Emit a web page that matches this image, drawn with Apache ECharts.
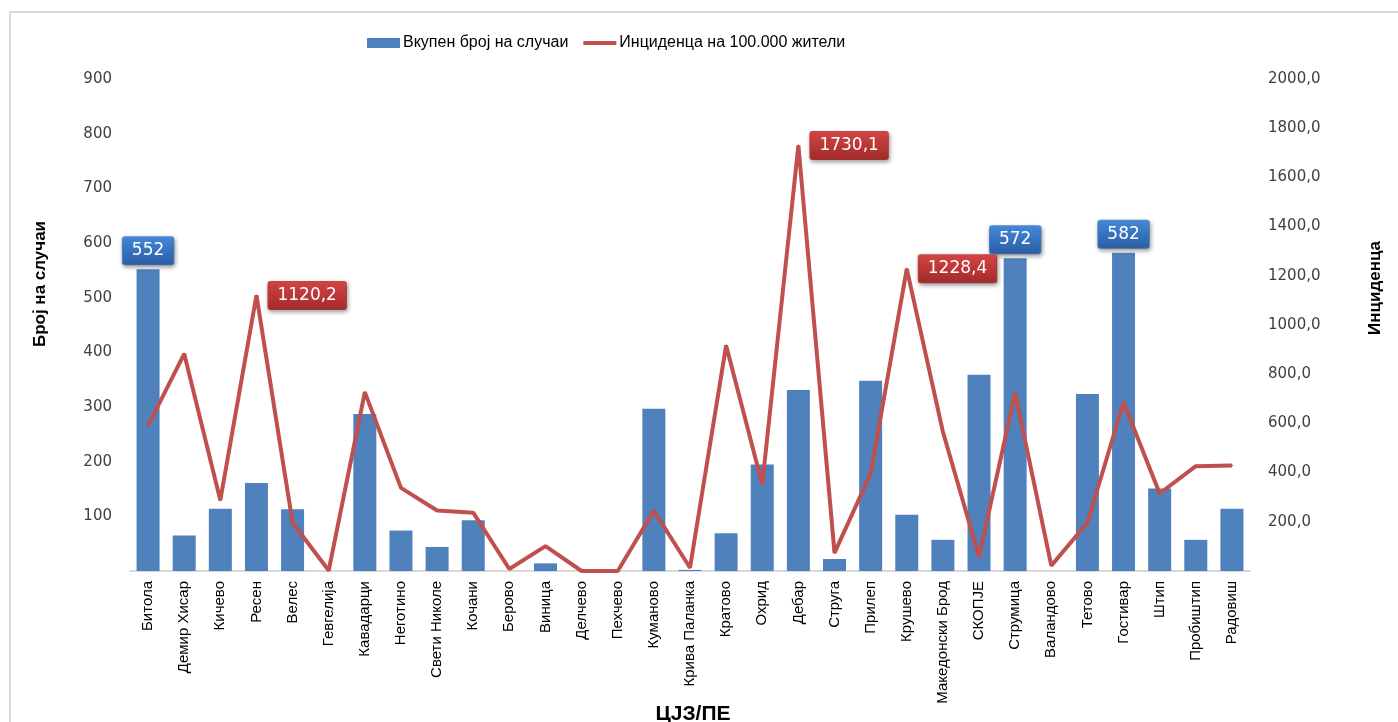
<!DOCTYPE html>
<html>
<head>
<meta charset="utf-8">
<script src="https://cdn.jsdelivr.net/npm/echarts@6/dist/echarts.min.js"></script>
<style>
  html, body { margin: 0; padding: 0; background: #fff; }
  #main { width: 1398px; height: 722px; }
</style>
</head>
<body>
<div id="main"></div>
<script>
// ЦЈЗ/ПЕ
var categories = ['Битола', 'Демир Хисар', 'Кичево', 'Ресен', 'Велес', 'Гевгелија', 'Кавадарци', 'Неготино',
  'Свети Николе', 'Кочани', 'Берово', 'Виница', 'Делчево', 'Пехчево', 'Куманово', 'Крива Паланка',
  'Кратово', 'Охрид', 'Дебар', 'Струга', 'Прилеп', 'Крушево', 'Македонски Брод', 'СКОПЈЕ',
  'Струмица', 'Валандово', 'Тетово', 'Гостивар', 'Штип', 'Пробиштип', 'Радовиш'];

// Вкупен број на случаи
var cases = [552, 65, 114, 161, 113, 0, 287, 74, 44, 93, 0, 14, 0, 0, 297, 2,
  69, 195, 331, 22, 348, 103, 57, 359, 572, 0, 324, 582, 151, 57, 114];

// Инциденца на 100.000 жители
var incidence = [591, 883, 288, 1120.2, 196, 2, 727, 338, 246, 237, 8, 101, 0, 0, 245, 13,
  917, 352, 1730.1, 74, 396, 1228.4, 566, 58, 724, 22, 196, 686, 315, 426, 429];

// which points carry a value box
var labelledCases = [0, 24, 27];
var labelledIncidence = [3, 18, 21];

var leftTicks = [0, 900, 100];
var rightTicks = [0, 2000, 200];

function grad(top, bottom) {
  return new echarts.graphic.LinearGradient(0, 0, 0, 1, [
    {offset: 0, color: top},
    {offset: 1, color: bottom}
  ]);
}

function fmtComma(v) {
  return v.toFixed(1).replace('.', ',');
}

var boxBase = {
  show: true,
  color: '#fff',
  fontFamily: 'DejaVu Sans',
  fontSize: 17,
  padding: [5, 9, 5, 9],
  borderRadius: 2,
  shadowColor: 'rgba(0,0,0,0.35)',
  shadowBlur: 4,
  shadowOffsetX: 1,
  shadowOffsetY: 2
};

var barData = cases.map(function (v, i) {
  if (labelledCases.indexOf(i) < 0) return v;
  return {
    value: v,
    label: Object.assign({}, boxBase, {
      position: 'top',
      distance: 5,
      backgroundColor: grad('#4388da', '#2a5da3'),
      borderColor: '#5b93d6',
      borderWidth: 1
    })
  };
});

var lineData = incidence.map(function (v, i) {
  if (labelledIncidence.indexOf(i) < 0) return v;
  return {
    value: v,
    label: Object.assign({}, boxBase, {
      position: 'right',
      distance: 11,
      formatter: function (p) { return fmtComma(p.value); },
      backgroundColor: grad('#d44444', '#a22a2a'),
      borderColor: '#c94a4a',
      borderWidth: 1
    })
  };
});

var chart = echarts.init(document.getElementById('main'));

var option = {
  animation: false,
  backgroundColor: '#fff',
  legend: {
    left: 362,
    top: 30,
    itemWidth: 33,
    itemHeight: 10,
    itemGap: 15,
    textStyle: {fontFamily: 'Liberation Sans', fontSize: 16, color: '#000', padding: [0, 0, 0, -2]},
    data: [
      {name: 'Вкупен број на случаи', icon: 'rect'},
      {name: 'Инциденца на 100.000 жители', icon: 'path://M0,0 M0,10 M0,3 L33,3 L33,7 L0,7 Z'}
    ]
  },
  grid: {left: 130, right: 148, top: 79, bottom: 151},
  xAxis: {
    type: 'category',
    data: categories,
    axisLine: {lineStyle: {color: '#d9d9d9', width: 2}},
    axisTick: {show: false},
    axisLabel: {
      interval: 0,
      rotate: 90,
      margin: 10,
      fontFamily: 'Liberation Sans',
      fontSize: 15,
      color: '#000'
    }
  },
  yAxis: [
    {
      type: 'value',
      min: leftTicks[0], max: leftTicks[1], interval: leftTicks[2],
      splitLine: {show: false},
      axisLine: {show: false},
      axisLabel: {showMinLabel: false, margin: 18, fontFamily: 'DejaVu Sans', fontSize: 15, color: '#404040'}
    },
    {
      type: 'value',
      min: rightTicks[0], max: rightTicks[1], interval: rightTicks[2],
      splitLine: {show: false},
      axisLine: {show: false},
      axisLabel: {
        showMinLabel: false, margin: 18, fontFamily: 'DejaVu Sans', fontSize: 15, color: '#404040',
        formatter: function (v) { return fmtComma(v); }
      }
    }
  ],
  series: [
    {
      name: 'Вкупен број на случаи',
      type: 'bar',
      barWidth: 23,
      itemStyle: {color: '#4f81bd'},
      data: barData
    },
    {
      name: 'Инциденца на 100.000 жители',
      type: 'line',
      yAxisIndex: 1,
      showSymbol: true,
      symbol: 'circle',
      symbolSize: 2,
      lineStyle: {color: '#c0504d', width: 4},
      itemStyle: {color: '#c0504d'},
      data: lineData
    }
  ],
  graphic: [
    {
      type: 'rect',
      silent: true,
      shape: {x: 10, y: 12, width: 1400, height: 720},
      style: {fill: null, stroke: '#d9d9d9', lineWidth: 2}
    },
    {
      type: 'text',
      x: 40, y: 284,
      rotation: Math.PI / 2,
      style: {text: 'Број на случаи', font: 'bold 17px "Liberation Sans"', fill: '#000', align: 'center', verticalAlign: 'middle'}
    },
    {
      type: 'text',
      x: 1375, y: 288,
      rotation: Math.PI / 2,
      style: {text: 'Инциденца', font: 'bold 17px "Liberation Sans"', fill: '#000', align: 'center', verticalAlign: 'middle'}
    },
    {
      type: 'text',
      x: 693, y: 704,
      style: {text: 'ЦЈЗ/ПЕ', font: 'bold 21px "Liberation Sans"', fill: '#000', align: 'center', verticalAlign: 'top'}
    }
  ]
};

chart.setOption(option);
</script>
</body>
</html>
